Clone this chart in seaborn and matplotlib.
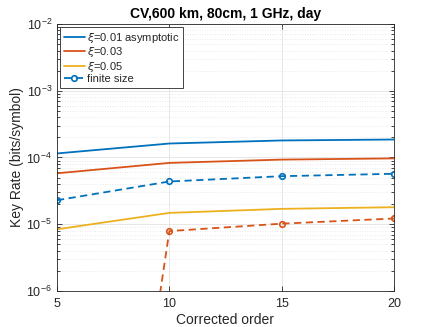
import matplotlib
matplotlib.use("Agg")
import matplotlib.pyplot as plt
import seaborn as sns
import pandas as pd
import numpy as np
from matplotlib.ticker import LogLocator, NullFormatter, FixedLocator

order = [5, 10, 15, 20]
asym_001 = [1.15e-4, 1.62e-4, 1.80e-4, 1.86e-4]
asym_003 = [5.8e-5, 8.3e-5, 9.3e-5, 9.7e-5]
asym_005 = [8.4e-6, 1.48e-5, 1.70e-5, 1.80e-5]
finite_001 = [2.29e-5, 4.37e-5, 5.25e-5, 5.7e-5]
finite_003 = [4e-17, 7.9e-6, 1.02e-5, 1.22e-5]

c_blue = "#0072BD"
c_red = "#D95319"
c_yel = "#EDB120"

sns.set_theme(style="ticks")
plt.rcParams['font.family'] = ['Liberation Sans', 'DejaVu Sans']
plt.rcParams['mathtext.fontset'] = 'dejavusans'

fig = plt.figure(figsize=(4.36, 3.27), dpi=100)
ax = fig.add_axes([0.1307, 0.1101, 0.7730, 0.8165])

sns.lineplot(x=order, y=asym_001, ax=ax, color=c_blue, lw=1.3,
             label=r"$\xi$=0.01 asymptotic")
sns.lineplot(x=order, y=asym_003, ax=ax, color=c_red, lw=1.3,
             label=r"$\xi$=0.03")
sns.lineplot(x=order, y=asym_005, ax=ax, color=c_yel, lw=1.3,
             label=r"$\xi$=0.05")
sns.lineplot(x=order, y=finite_001, ax=ax, color=c_blue, lw=1.3,
             linestyle=(0, (4, 2.5)), marker="o", markersize=4,
             markerfacecolor="none", markeredgecolor=c_blue, markeredgewidth=1.2,
             label="finite size")
sns.lineplot(x=order, y=finite_003, ax=ax, color=c_red, lw=1.3,
             linestyle=(0, (4, 2.5)), marker="o", markersize=4,
             markerfacecolor="none", markeredgecolor=c_red, markeredgewidth=1.2,
             label="_nolegend_")

ax.set_yscale("log")
ax.set_xlim(5, 20)
ax.set_ylim(1e-6, 1e-2)
ax.xaxis.set_major_locator(FixedLocator([5, 10, 15, 20]))
ax.yaxis.set_major_locator(LogLocator(base=10, numticks=10))
ax.yaxis.set_minor_locator(LogLocator(base=10, subs=np.arange(2, 10), numticks=20))
ax.yaxis.set_minor_formatter(NullFormatter())

ax.grid(True, which="major", color="#e3e3e3", lw=0.6, ls="-")
ax.grid(True, which="minor", axis="y", color="#e3e3e3", lw=0.6, ls=(0, (1, 2)))
ax.set_axisbelow(True)

for s in ax.spines.values():
    s.set_color("#262626")
    s.set_linewidth(0.6)
ax.tick_params(which="both", direction="in", top=True, right=True,
               colors="#262626", labelsize=9, width=0.6)
ax.tick_params(which="major", length=3.5)
ax.tick_params(which="minor", length=2)
ax.tick_params(axis="x", which="minor", bottom=False, top=False)
ax.tick_params(axis="x", which="major", pad=5)

ax.set_xlabel("Corrected order", fontsize=10, color="#262626", labelpad=2)
ax.set_ylabel("Key Rate (bits/symbol)", fontsize=10, color="#262626", labelpad=2)
ax.set_title("CV,600 km, 80cm, 1 GHz, day", fontsize=10, fontweight="bold",
             color="black", pad=4)

leg = ax.legend(loc="upper left", fontsize=8, frameon=True, fancybox=False,
                edgecolor="#262626", framealpha=1, borderpad=0.3,
                labelspacing=0.05, handlelength=1.9, handletextpad=0.2,
                borderaxespad=0.3)
leg.get_frame().set_linewidth(0.6)
for t in leg.get_texts():
    t.set_color("#262626")

fig.savefig("out.png", dpi=100)
